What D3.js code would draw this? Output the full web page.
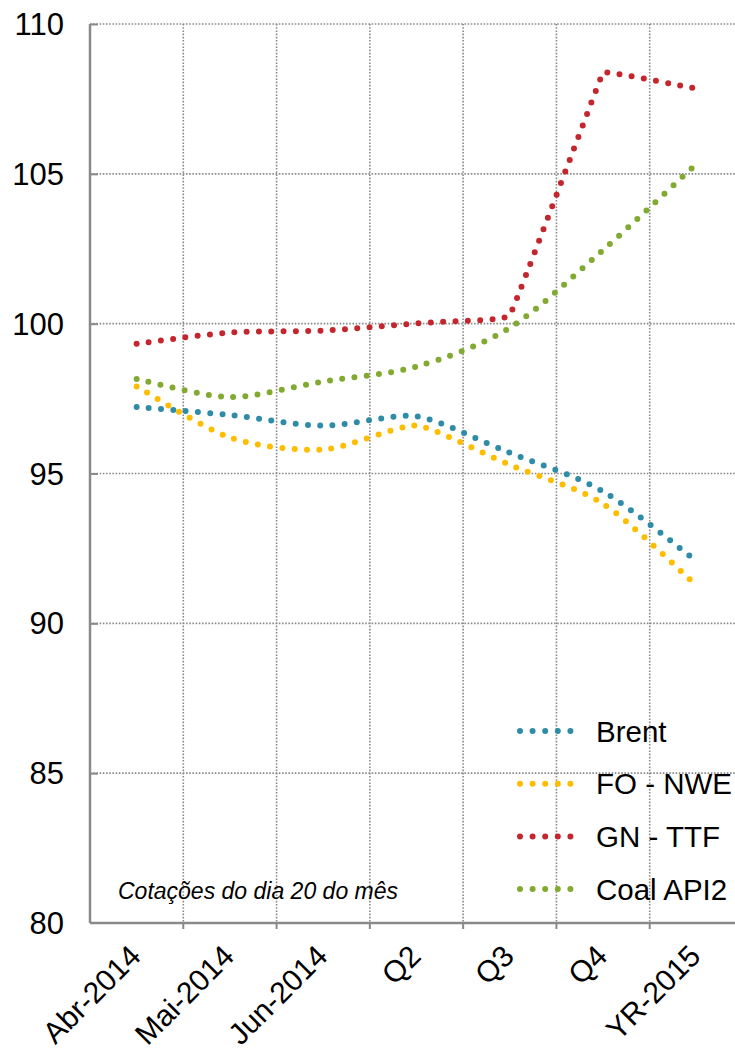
<!DOCTYPE html>
<html>
<head>
<meta charset="utf-8">
<script src="https://cdn.jsdelivr.net/npm/d3@7"></script>
<style>
  body { margin: 0; background: #fff; }
  text { font-family: "Liberation Sans", Arial, sans-serif; fill: #000; }
</style>
</head>
<body>
<svg width="735" height="1056"></svg>
<script>
const categories = ["Abr-2014", "Mai-2014", "Jun-2014", "Q2", "Q3", "Q4", "YR-2015"];
const brent = [97.22, 96.95, 96.6, 96.91, 95.69, 94.4, 92.08];
const foNwe = [97.9, 96.2, 95.8, 96.6, 95.29, 93.99, 91.27];
const gnTtf = [99.33, 99.7, 99.77, 100.01, 100.28, 108.39, 107.85];
const coalApi2 = [98.15, 97.55, 98.07, 98.57, 99.86, 102.46, 105.33];
const seriesNames = ["Brent", "FO - NWE", "GN - TTF", "Coal API2"];
const yTicks = [80, 85, 90, 95, 100, 105, 110];

const colors = ["#2f8ca6", "#ffbd00", "#c4262e", "#82aa30"];
const series = [brent, foNwe, gnTtf, coalApi2].map((v, i) => ({ name: seriesNames[i], values: v, color: colors[i] }));

const svg = d3.select("svg");
const plotLeft = 90, plotRight = 743, plotTop = 24, plotBottom = 923;

const x = d3.scalePoint().domain(categories).range([plotLeft, plotRight]).padding(0.5);
const y = d3.scaleLinear().domain([80, 110]).range([plotBottom, plotTop]);
const step = x.step();

// smoothed line like the spreadsheet one: bezier, tangents shrink at sharp turns
function smoothCurve(context) {
  let pts;
  return {
    areaStart() {}, areaEnd() {},
    lineStart() { pts = []; },
    point(px, py) { pts.push([+px, +py]); },
    lineEnd() {
      const n = pts.length;
      if (!n) return;
      const tan = pts.map((p, i) => {
        const a = pts[Math.max(i - 1, 0)], b = pts[Math.min(i + 1, n - 1)];
        let tx = (b[0] - a[0]) / 6, ty = (b[1] - a[1]) / 6;
        if (i > 0 && i < n - 1) {
          const ux = p[0] - a[0], uy = p[1] - a[1], vx = b[0] - p[0], vy = b[1] - p[1];
          const c = (ux * vx + uy * vy) / (Math.hypot(ux, uy) * Math.hypot(vx, vy));
          const s = Math.pow((1 + c) / 2, 6);
          tx *= s; ty *= s;
        }
        return [tx, ty];
      });
      context.moveTo(pts[0][0], pts[0][1]);
      for (let i = 1; i < n; i++) {
        const p0 = pts[i - 1], p1 = pts[i];
        context.bezierCurveTo(p0[0] + tan[i - 1][0], p0[1] + tan[i - 1][1],
          p1[0] - tan[i][0], p1[1] - tan[i][1], p1[0], p1[1]);
      }
    }
  };
}

// gridlines
svg.append("g")
  .selectAll("line")
  .data(yTicks.filter(t => t > 80))
  .enter().append("line")
  .attr("x1", plotLeft).attr("x2", plotRight)
  .attr("y1", d => y(d)).attr("y2", d => y(d))
  .attr("stroke", "#8a8a8a")
  .attr("stroke-width", 1.6)
  .attr("stroke-dasharray", "1.6 1.6");

svg.append("g")
  .selectAll("line")
  .data(d3.range(1, categories.length + 1))
  .enter().append("line")
  .attr("x1", i => plotLeft + i * step).attr("x2", i => plotLeft + i * step)
  .attr("y1", plotTop).attr("y2", plotBottom)
  .attr("stroke", "#8a8a8a")
  .attr("stroke-width", 1.6)
  .attr("stroke-dasharray", "1.6 1.6");

// axes
svg.append("g")
  .attr("transform", `translate(${plotLeft},0)`)
  .call(d3.axisRight(y).tickValues(yTicks.filter(t => t > 80)).tickSize(8).tickFormat(""))
  .call(g => g.select(".domain").remove())
  .selectAll("line").attr("stroke", "#8a8a8a").attr("stroke-width", 2);

svg.append("line")
  .attr("x1", plotLeft).attr("x2", plotLeft).attr("y1", plotTop).attr("y2", plotBottom)
  .attr("stroke", "#8a8a8a").attr("stroke-width", 2.5);

svg.append("line")
  .attr("x1", plotLeft).attr("x2", plotRight).attr("y1", plotBottom).attr("y2", plotBottom)
  .attr("stroke", "#8a8a8a").attr("stroke-width", 2.5);

svg.append("g")
  .selectAll("line")
  .data(d3.range(1, categories.length))
  .enter().append("line")
  .attr("x1", i => plotLeft + i * step).attr("x2", i => plotLeft + i * step)
  .attr("y1", plotBottom).attr("y2", plotBottom + 6)
  .attr("stroke", "#8a8a8a").attr("stroke-width", 2);

// y labels
svg.append("g")
  .selectAll("text")
  .data(yTicks)
  .enter().append("text")
  .attr("x", 64)
  .attr("y", d => y(d))
  .attr("dy", "0.36em")
  .attr("text-anchor", "end")
  .style("font-size", "31px")
  .text(d => d);

// x labels
svg.append("g")
  .selectAll("text")
  .data(categories)
  .enter().append("text")
  .attr("text-anchor", "end")
  .attr("transform", d => `translate(${x(d) + 6},${958}) rotate(-45)`)
  .style("font-size", "30px")
  .text(d => d);

// series
const line = d3.line()
  .x((d, i) => x(categories[i]))
  .y(d => y(d))
  .curve(smoothCurve);

svg.append("g")
  .selectAll("path")
  .data(series)
  .enter().append("path")
  .attr("d", d => line(d.values))
  .attr("fill", "none")
  .attr("stroke", d => d.color)
  .attr("stroke-width", 6)
  .attr("stroke-linecap", "round")
  .attr("stroke-dasharray", "0 12.3");

// note
svg.append("text")
  .attr("x", 118)
  .attr("y", 899)
  .style("font-size", "23px")
  .style("font-style", "italic")
  .text("Cotações do dia 20 do mês");

// legend
const legend = svg.append("g")
  .selectAll("g")
  .data(series)
  .enter().append("g")
  .attr("transform", (d, i) => `translate(520,${731 + i * 52.7})`);

legend.append("line")
  .attr("x1", 0).attr("x2", 63)
  .attr("stroke", d => d.color)
  .attr("stroke-width", 6)
  .attr("stroke-linecap", "round")
  .attr("stroke-dasharray", "0 12.6");

legend.append("text")
  .attr("x", 76)
  .attr("dy", "0.36em")
  .style("font-size", "29.5px")
  .text(d => d.name);
</script>
</body>
</html>
